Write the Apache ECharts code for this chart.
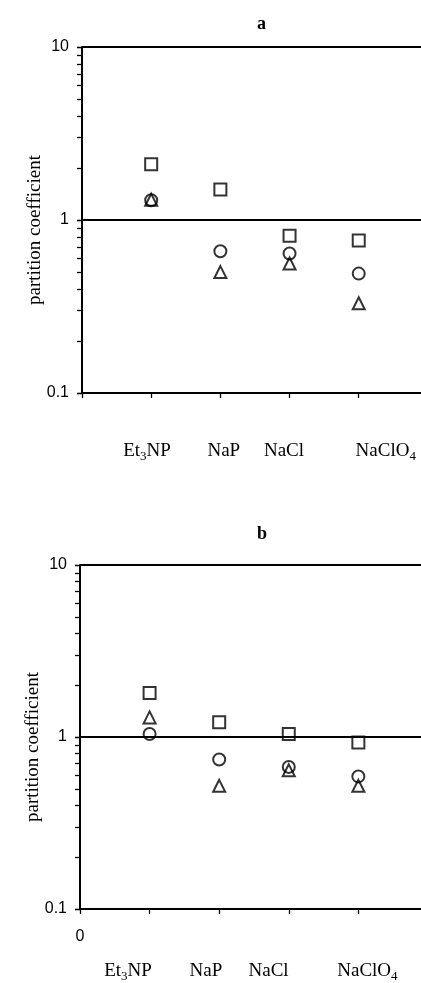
<!DOCTYPE html>
<html>
<head>
<meta charset="utf-8">
<script src="https://cdn.jsdelivr.net/npm/echarts@6/dist/echarts.min.js"></script>
<style>
  html, body { margin: 0; padding: 0; background: #fff; }
  #chart { width: 421px; height: 983px; }
</style>
</head>
<body>
<div id="chart"></div>
<script>
// Salts along the x axis (digits are drawn as subscripts)
const categories = ['Et3NP', 'NaP', 'NaCl', 'NaClO4'];
const positions = [1, 2, 3, 4];
const yTickLabels = ['0.1', '1', '10'];
const panelTitles = ['a', 'b'];
const yAxisTitle = 'partition coefficient';

// Panel a: partition coefficients per salt
const squareA = [2.10, 1.50, 0.81, 0.76];
const circleA = [1.30, 0.66, 0.64, 0.49];
const triangleA = [1.31, 0.50, 0.56, 0.33];

// Panel b
const squareB = [1.80, 1.22, 1.04, 0.93];
const circleB = [1.04, 0.74, 0.67, 0.59];
const triangleB = [1.30, 0.52, 0.64, 0.52];

// Layout: where each salt name sits along the x axis of each panel
const labelSlotsA = [0.94, 2.05, 2.92, 4.39];
const labelSlotsB = [0.69, 1.81, 2.71, 4.13];

const serif = '"Liberation Serif", "DejaVu Serif", serif';
const sans = '"Liberation Sans", Arial, sans-serif';
const ink = '#000';

// 1..9 within each decade, for the small ticks on the log axis
const logTicks = [];
for (let d = 0.1; d < 10; d *= 10) {
  for (let k = 1; k < 10; k++) logTicks.push(+(k * d).toFixed(2));
}
logTicks.push(10);

function richName(name) {
  // "NaClO4" -> NaClO with subscript 4
  return name.replace(/([^0-9]+)|([0-9]+)/g, (m, txt, num) =>
    txt ? '{n|' + txt + '}' : '{sub|' + num + '}');
}

function xLabelFormatter(slots, withZero) {
  return function (value) {
    if (withZero && Math.abs(value) < 1e-6) return '{z|0}';
    let best = 0;
    for (let i = 1; i < slots.length; i++) {
      if (Math.abs(slots[i] - value) < Math.abs(slots[best] - value)) best = i;
    }
    return '{gap| }\n' + richName(categories[best]);
  };
}

function richStyles(gap) {
  return {
    gap: { lineHeight: gap, fontSize: 10 },
    n: { fontFamily: serif, fontSize: 19, color: ink, lineHeight: 24, verticalAlign: 'middle' },
    sub: { fontFamily: serif, fontSize: 13, color: ink, lineHeight: 13, verticalAlign: 'bottom' },
    z: { fontFamily: sans, fontSize: 16, color: ink, lineHeight: 18 }
  };
}

function xAxisFor(gridIndex, slots, withZero, margin, gap) {
  return {
    type: 'value', gridIndex, min: 0, max: 4.9,
    axisLine: { show: true, lineStyle: { color: ink, width: 2 } },
    axisTick: { show: true, customValues: [0, 1, 2, 3, 4], length: 5, inside: false,
                lineStyle: { color: ink, width: 1.3 } },
    axisLabel: {
      show: true,
      customValues: withZero ? [0].concat(slots) : slots.slice(),
      formatter: xLabelFormatter(slots, withZero),
      margin: margin,
      rich: richStyles(gap)
    },
    splitLine: { show: false }
  };
}

// Main log axis: labels, decade ticks and the horizontal rules at 0.1, 1 and 10
function yAxisFor(gridIndex, nameGap) {
  return {
    type: 'log', logBase: 10, gridIndex, min: 0.1, max: 10, position: 'left',
    name: yAxisTitle, nameLocation: 'middle', nameGap: nameGap, nameRotate: 90,
    nameMoveOverlap: false,
    nameTextStyle: { fontFamily: serif, fontSize: 19, color: ink, padding: [0, 20, 0, 0] },
    axisLine: { show: true, lineStyle: { color: ink, width: 2 } },
    axisTick: { show: true, length: 5, inside: false, lineStyle: { color: ink, width: 1.3 } },
    axisLabel: {
      formatter: v => yTickLabels[Math.round(Math.log10(v)) + 1],
      fontFamily: sans, fontSize: 16, color: ink, margin: 13
    },
    splitLine: { show: true, lineStyle: { color: ink, width: 2 } }
  };
}

// Companion axis carrying only the 2..9 ticks inside each decade
function yMinorAxisFor(gridIndex) {
  return {
    type: 'log', logBase: 10, gridIndex, min: 0.1, max: 10, position: 'left',
    axisLine: { show: false },
    axisTick: { show: true, customValues: logTicks, length: 5, inside: false,
                lineStyle: { color: ink, width: 1.3 } },
    axisLabel: { show: false },
    splitLine: { show: false }
  };
}

function markerSeries(gridIndex, values, symbol, size) {
  return {
    type: 'scatter',
    xAxisIndex: gridIndex, yAxisIndex: gridIndex,
    symbol, symbolSize: size,
    data: positions.map((x, i) => [x, values[i]]),
    itemStyle: { color: 'rgba(0,0,0,0)', borderColor: ink, borderWidth: 2 },
    emphasis: { disabled: true },
    silent: true
  };
}

const chart = echarts.init(document.getElementById('chart'), null, { renderer: 'canvas' });
chart.setOption({
  backgroundColor: '#fff',
  animation: false,
  title: [
    { text: panelTitles[0], left: 252, top: 10,
      textStyle: { fontFamily: serif, fontWeight: 'bold', fontSize: 18, color: ink } },
    { text: panelTitles[1], left: 252, top: 520,
      textStyle: { fontFamily: serif, fontWeight: 'bold', fontSize: 18, color: ink } }
  ],
  grid: [
    { left: 82, top: 47, width: 339, height: 346 },
    { left: 80, top: 565, width: 341, height: 346 }
  ],
  xAxis: [
    xAxisFor(0, labelSlotsA, false, 12, 34),
    xAxisFor(1, labelSlotsB, true, 19, 31)
  ],
  yAxis: [yAxisFor(0, 37), yAxisFor(1, 37), yMinorAxisFor(0), yMinorAxisFor(1)],
  series: [
    markerSeries(0, squareA, 'rect', 12),
    markerSeries(0, triangleA, 'triangle', 12),
    markerSeries(0, circleA, 'circle', 12),
    markerSeries(1, squareB, 'rect', 12),
    markerSeries(1, triangleB, 'triangle', 12),
    markerSeries(1, circleB, 'circle', 12)
  ]
});
</script>
</body>
</html>
